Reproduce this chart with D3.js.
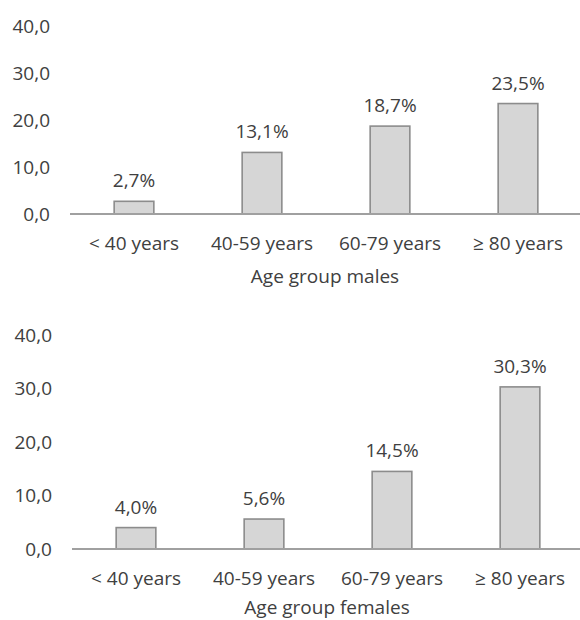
<!DOCTYPE html>
<html>
<head>
<meta charset="utf-8">
<script src="https://cdn.jsdelivr.net/npm/d3@7"></script>
<style>
  html, body { margin: 0; padding: 0; background: #fff; }
  text { font-family: "Open Sans", "Liberation Sans", sans-serif; fill: #404040; }
</style>
</head>
<body>
<svg id="chart" width="580" height="620"></svg>
<script>
// Age groups shared by both panels
const categories = ["< 40 years", "40-59 years", "60-79 years", "\u2265 80 years"];
// Percentages per age group
const malesValues = [2.7, 13.1, 18.7, 23.5];
const femalesValues = [4.0, 5.6, 14.5, 30.3];
// Y-axis ticks
const yTicks = [0, 10, 20, 30, 40];
const panelTitles = ["Age group males", "Age group females"];

const svg = d3.select("#chart");
const fmt = v => d3.format(".1f")(v).replace(".", ",");
const FS = "19px";

const panels = [
  { values: malesValues, title: panelTitles[0], top: 26, base: 214, left: 70, labelX: 50, titleY: 283 },
  { values: femalesValues, title: panelTitles[1], top: 335, base: 549, left: 72, labelX: 52, titleY: 614 }
];

panels.forEach(p => {
  const g = svg.append("g");
  const x = d3.scaleBand().domain(categories).range([p.left, p.left + 512]).paddingInner(0.69).paddingOuter(0.345);
  const y = d3.scaleLinear().domain([0, 40]).range([p.base, p.top]);

  // y tick labels (no axis line, no tick marks)
  const yAxis = g.append("g")
    .attr("transform", `translate(${p.labelX},0)`)
    .call(d3.axisLeft(y).tickValues(yTicks).tickFormat(fmt).tickSize(0).tickPadding(0));
  yAxis.select(".domain").remove();
  yAxis.selectAll("text")
    .style("font-size", FS)
    .style("font-family", "'Open Sans', sans-serif")
    .attr("fill", "#404040");

  // bars
  g.selectAll("rect.bar").data(p.values).join("rect")
    .attr("class", "bar")
    .attr("x", (d, i) => x(categories[i]))
    .attr("width", x.bandwidth())
    .attr("y", d => y(d))
    .attr("height", d => y(0) - y(d))
    .attr("fill", "#d6d6d6")
    .attr("stroke", "#8c8c8c")
    .attr("stroke-width", 1.6);

  // value labels
  g.selectAll("text.val").data(p.values).join("text")
    .attr("class", "val")
    .attr("x", (d, i) => x(categories[i]) + x.bandwidth() / 2)
    .attr("y", d => y(d) - 14)
    .attr("text-anchor", "middle")
    .style("font-size", FS)
    .text(d => fmt(d) + "%");

  // x axis: baseline and category labels
  const xAxis = g.append("g")
    .attr("transform", `translate(0,${p.base})`)
    .call(d3.axisBottom(x).tickSize(0).tickPadding(22));
  xAxis.select(".domain")
    .attr("stroke", "#a0a0a0")
    .attr("stroke-width", 2)
    .attr("d", `M${p.left},0H580`);
  xAxis.selectAll("text")
    .style("font-size", FS)
    .style("font-family", "'Open Sans', sans-serif")
    .attr("fill", "#404040")
    .attr("dy", "0.32em")
    .attr("y", 30);

  // axis title
  g.append("text")
    .attr("x", p.left + 255)
    .attr("y", p.titleY)
    .attr("text-anchor", "middle")
    .style("font-size", FS)
    .text(p.title);
});
</script>
</body>
</html>
